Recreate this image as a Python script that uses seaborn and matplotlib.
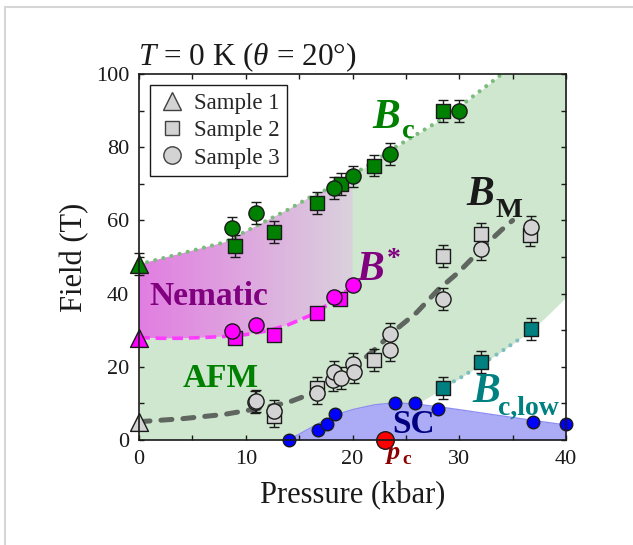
import numpy as np
import matplotlib
matplotlib.use("Agg")
import matplotlib.pyplot as plt
import seaborn as sns
from matplotlib.lines import Line2D
from matplotlib.patches import Polygon, Rectangle
from matplotlib.ticker import MultipleLocator

# ---------------- data ----------------
# B_c (green)
bc_s1_p = [0.0];  bc_s1_b = [48.0]
bc_s2_p = [9.0, 12.6, 16.7, 18.9, 22.0, 28.5]
bc_s2_b = [53.0, 56.9, 64.8, 70.0, 75.0, 90.0]
bc_s3_p = [8.74, 11.0, 18.3, 20.0, 23.5, 30.0]
bc_s3_b = [58.0, 61.9, 68.9, 72.0, 78.1, 89.9]
bc_err = 3.0

# B* (magenta)
bs_s1_p = [0.0]; bs_s1_b = [28.0]
bs_s2_p = [8.96, 12.65, 16.7, 18.8]
bs_s2_b = [27.8, 28.6, 34.6, 38.4]
bs_s3_p = [8.74, 11.0, 18.3, 20.0]
bs_s3_b = [29.8, 31.5, 39.2, 42.3]

# B_M (grey)
bm_s1_p = [0.0]; bm_s1_b = [5.0]
bm_s2_p = [12.6, 16.7, 22.0, 28.5, 32.0, 36.6]
bm_s2_b = [6.6, 14.1, 21.8, 50.3, 56.2, 56.0]
bm_s3_p = [10.9, 11.0, 12.65, 16.7, 18.2, 18.3, 18.9, 20.0, 20.1, 23.5, 23.5, 28.5, 32.0, 36.7]
bm_s3_b = [10.3, 10.7, 8.0, 12.9, 16.4, 18.7, 17.0, 20.8, 18.7, 24.6, 28.9, 38.4, 52.2, 58.3]
bm_err = 3.0

# B_c,low (teal)
bcl_p = [28.5, 32.0, 36.7]
bcl_b = [14.3, 21.3, 30.3]
bcl_err = 3.0

# SC (blue) and p_c (red)
sc_pts_p = [14.05, 16.8, 17.6, 18.4, 24.0, 25.9, 28.0, 36.9, 40.0]
sc_pts_b = [0.0, 2.6, 4.4, 7.1, 10.2, 10.2, 8.4, 5.0, 4.3]
pc_p = [23.0]; pc_b = [0.0]

# guide curves / phase boundaries
bc_guide_p = [0, 2, 4, 6, 8, 10, 12, 14, 16, 18, 20, 22, 24, 26, 28, 30, 32, 34]
bc_guide_b = [48, 49.5, 51, 52.5, 54, 57, 60, 63, 66.3, 69, 72.5, 76, 80, 83.5, 87, 91, 95.5, 100]
bs_guide_p = [0, 2, 4, 6, 8, 10, 12, 14, 16, 18, 20]
bs_guide_b = [28, 27.8, 27.8, 28, 28.3, 28.8, 29.8, 31.5, 34, 37.5, 42]
bm_guide_p = [0, 4, 8, 12, 14, 16, 18, 20, 22, 24, 26, 28, 30, 32, 34, 35]
bm_guide_b = [5, 5.8, 7, 9, 10.3, 12.5, 15.5, 19.5, 24.5, 30, 34.8, 41, 46, 52, 57.5, 60]
bcl_guide_p = [28.8, 30, 32, 34, 36]
bcl_guide_b = [15.0, 16.8, 20.5, 24.3, 28.3]
afm_low_p = [26.0, 27, 28, 29, 30, 32, 34, 36, 38, 40]
afm_low_b = [10.0, 11.5, 13.2, 15, 16.8, 20.5, 24.3, 28.3, 33.3, 39]
sc_dome_p = [14, 15, 16, 17, 18, 19, 20, 22, 24, 26, 28, 30, 32, 34, 36, 38, 40]
sc_dome_b = [0, 1.6, 3.2, 4.8, 6.3, 7.4, 8.3, 9.6, 10.2, 9.8, 9.1, 8.3, 7.4, 6.6, 5.7, 4.9, 4.1]

legend_labels = ["Sample 1", "Sample 2", "Sample 3"]

# ---------------- style ----------------
sns.set_theme(style="ticks")
plt.rcParams["font.family"] = ["Liberation Serif", "DejaVu Serif"]
plt.rcParams["mathtext.fontset"] = "custom"
plt.rcParams["mathtext.rm"] = "Liberation Serif"
plt.rcParams["mathtext.it"] = "Liberation Serif:italic"
plt.rcParams["mathtext.bf"] = "Liberation Serif:bold"

GREEN = "#008000"
GREEN_FILL = "#cfe6cf"
BLUE_FILL = "#acacf6"
MAG = "#ff00ff"
PURPLE = "#800080"
TEAL = "#008080"
GREY = "#d3d3d3"

fig = plt.figure(figsize=(6.33, 5.45), dpi=100)
ax = fig.add_axes([139 / 633, 1 - 440 / 545, 427 / 633, 366 / 545])
ax.set_facecolor("white")

# ---------------- fills ----------------
P = np.linspace(0, 40, 801)
upper = np.minimum(np.interp(P, bc_guide_p, bc_guide_b), 100)
sc_top = np.interp(P, sc_dome_p, sc_dome_b, left=0.0)
low_b = np.interp(P, afm_low_p, afm_low_b, left=0.0)
lower = np.maximum(sc_top, low_b)
ax.fill_between(P, lower, upper, color=GREEN_FILL, lw=0, zorder=0)
ax.fill_between(P, 0, sc_top, where=sc_top > 0, color=BLUE_FILL, lw=0, zorder=0.5)
mask = P >= 14
ax.plot(P[mask], sc_top[mask], color="#8f8ff2", lw=1.0, zorder=0.6)

# nematic gradient region
Pn = np.linspace(0, 20, 201)
top_n = np.interp(Pn, bc_guide_p, bc_guide_b)
bot_n = np.interp(Pn, bs_guide_p, bs_guide_b)
verts = np.vstack([np.column_stack([Pn, top_n]), np.column_stack([Pn[::-1], bot_n[::-1]])])
poly = Polygon(verts, closed=True, facecolor="none", edgecolor="none", transform=ax.transData)
ax.add_patch(poly)
g = np.linspace(0, 1, 256)
c0 = np.array([0.885, 0.49, 0.885])
c1 = np.array([0.855, 0.82, 0.865])
img = (c0[None, :] * (1 - g[:, None]) + c1[None, :] * g[:, None])[None, :, :]
im = ax.imshow(img, extent=[0, 20, 0, 100], aspect="auto", origin="lower", zorder=1, interpolation="bilinear")
im.set_clip_path(poly)

# ---------------- guide lines ----------------
ax.plot(bc_guide_p, bc_guide_b, color="#7cbc7c", lw=3.0, ls=(0, (0.01, 2.0)),
        dash_capstyle="round", zorder=2, clip_on=False)
ax.plot(bs_guide_p, bs_guide_b, color="#ff3cff", lw=2.6, ls=(0, (3.0, 1.6)),
        dash_capstyle="butt", zorder=2)
ax.plot(bm_guide_p, bm_guide_b, color="#3a3a3a", alpha=0.75, lw=3.6, ls=(0, (2.2, 2.2)),
        dash_capstyle="round", zorder=2)
ax.plot(bcl_guide_p, bcl_guide_b, color="#7fbfbf", lw=3.0, ls=(0, (0.01, 2.0)),
        dash_capstyle="round", zorder=2)

# ---------------- error bars ----------------
def ebar(p, b, e):
    ax.errorbar(p, b, yerr=e, fmt="none", ecolor="k", elinewidth=1.0, capsize=3.5,
                capthick=1.0, zorder=3, clip_on=False)

ebar(bc_s1_p, bc_s1_b, bc_err)
ebar(bc_s2_p, bc_s2_b, bc_err)
ebar(bc_s3_p, bc_s3_b, bc_err)
ebar(bm_s2_p, bm_s2_b, bm_err)
ebar(bm_s3_p, bm_s3_b, bm_err)
ebar(bcl_p, bcl_b, bcl_err)

# ---------------- markers ----------------
S_TRI, S_SQ, S_CIR = 165, 88, 120

def pts(p, b, marker, s, color, z, lw=1.0):
    sns.scatterplot(x=p, y=b, marker=marker, s=s, color=color, edgecolor="k",
                    linewidth=lw, ax=ax, zorder=z, clip_on=False, legend=False)

pts(bm_s2_p, bm_s2_b, "s", S_SQ, GREY, 4)
pts(bm_s3_p, bm_s3_b, "o", S_CIR, GREY, 4.1)
pts(bm_s1_p, bm_s1_b, "^", S_TRI, GREY, 4.2)
pts(bs_s2_p, bs_s2_b, "s", S_SQ, MAG, 4.3)
pts(bs_s3_p, bs_s3_b, "o", S_CIR, MAG, 4.4)
pts(bs_s1_p, bs_s1_b, "^", S_TRI, MAG, 4.5)
pts(bc_s2_p, bc_s2_b, "s", S_SQ, GREEN, 4.3)
pts(bc_s3_p, bc_s3_b, "o", S_CIR, GREEN, 4.4)
pts(bc_s1_p, bc_s1_b, "^", S_TRI, GREEN, 4.5)
pts(bcl_p, bcl_b, "s", S_SQ, TEAL, 4.3)
pts(sc_pts_p, sc_pts_b, "o", 82, "#0000ff", 4.6)
pts(pc_p, pc_b, "o", 160, "#ff0000", 4.7)

# ---------------- axes ----------------
ax.set_xlim(0, 40)
ax.set_ylim(0, 100)
ax.xaxis.set_major_locator(MultipleLocator(10))
ax.xaxis.set_minor_locator(MultipleLocator(5))
ax.yaxis.set_major_locator(MultipleLocator(20))
ax.yaxis.set_minor_locator(MultipleLocator(10))
ax.tick_params(which="both", direction="in", top=True, right=True, length=3.5,
               width=1.0, color="k")
ax.tick_params(which="major", labelsize=16, pad=7, labelcolor="k")
for sp in ax.spines.values():
    sp.set_color("k")
    sp.set_linewidth(1.2)
    sp.set_zorder(5)
ax.set_xlabel("Pressure (kbar)", fontsize=22, labelpad=9, color="k")
ax.set_ylabel("Field (T)", fontsize=22, labelpad=5, color="k")

ax.text(-0.002, 1.025, r"$T$ = 0 K ($\theta$ = 20°)", transform=ax.transAxes,
        fontsize=22.5, ha="left", va="baseline", color="k")

# ---------------- labels ----------------
def txt(x, y, s, color, size, style="normal", weight="bold"):
    ax.text(x, y, s, color=color, fontsize=size, fontstyle=style, fontweight=weight,
            ha="left", va="baseline", zorder=6)

txt(21.9, 85.2, "B", GREEN, 30, "italic")
txt(24.6, 82.5, "c", GREEN, 20.5)
txt(30.7, 64.2, "B", "k", 30, "italic")
txt(33.35, 61.0, "M", "k", 20.5)
txt(20.4, 43.7, "B", PURPLE, 30, "italic")
txt(23.2, 47.5, "*", PURPLE, 20)
txt(31.2, 10.4, "B", TEAL, 30, "italic")
txt(33.6, 6.8, "c,low", TEAL, 20)
txt(1.0, 36.9, "Nematic", PURPLE, 24)
txt(4.1, 14.6, "AFM", GREEN, 24)
txt(23.7, 1.9, "SC", "#000080", 24)
txt(23.25, -5.2, "p", "#8b0000", 19, "italic")
txt(24.65, -6.5, "c", "#8b0000", 14)

# ---------------- legend ----------------
handles = [
    Line2D([], [], marker="^", ls="none", markersize=13, markerfacecolor=GREY,
           markeredgecolor="#404040", markeredgewidth=1.0),
    Line2D([], [], marker="s", ls="none", markersize=9.5, markerfacecolor=GREY,
           markeredgecolor="#404040", markeredgewidth=1.0),
    Line2D([], [], marker="o", ls="none", markersize=12.5, markerfacecolor=GREY,
           markeredgecolor="#404040", markeredgewidth=1.0),
]
leg = ax.legend(handles, legend_labels, loc="upper left",
                bbox_to_anchor=(11 / 427, 1 - 11 / 366), borderaxespad=0,
                frameon=True, fancybox=False, edgecolor="k", framealpha=1,
                fontsize=16.5, labelspacing=0.28, borderpad=0.33, handlelength=1.25,
                handletextpad=0.35)
leg.get_frame().set_linewidth(1.0)
leg.set_zorder(7)

# outer light frame
fig.patches.append(Rectangle((5 / 633, -0.2), 1.5, 1 - 7 / 545 + 0.2,
                             transform=fig.transFigure, fill=False,
                             edgecolor="#d6d6d6", lw=1.5))

fig.savefig("out.png", dpi=100)
